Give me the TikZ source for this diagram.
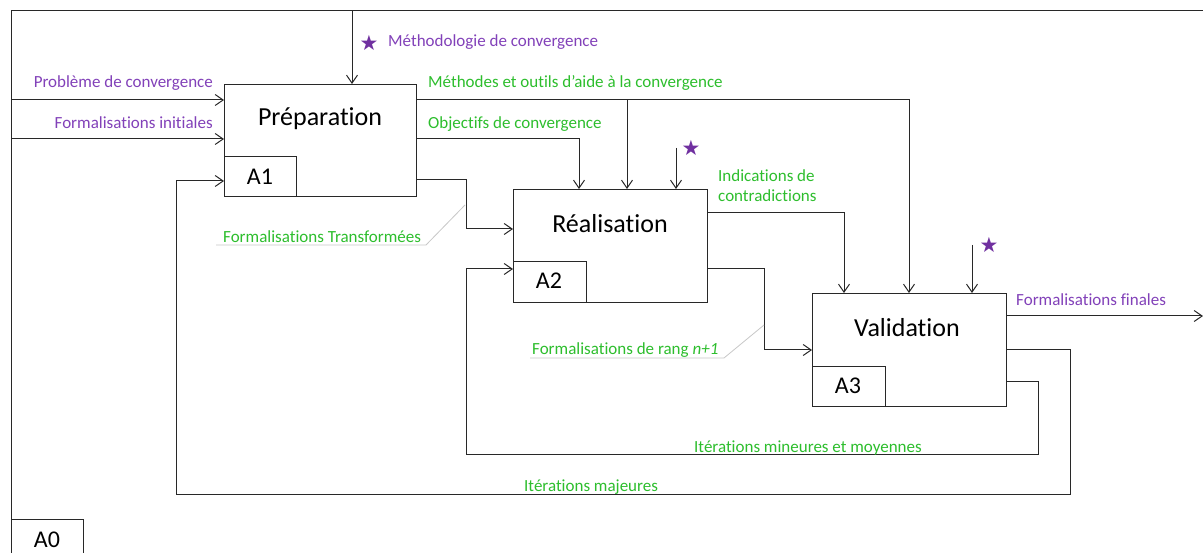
\documentclass[tikz,border=0pt]{standalone}
\usepackage{fontspec}
\setmainfont{Carlito}[Ligatures={NoCommon}]
\newfontfamily\symfont{DejaVu Sans}
\usetikzlibrary{arrows.meta}
\definecolor{lnc}{RGB}{40,40,40}
\definecolor{purp}{RGB}{130,65,185}
\definecolor{starc}{RGB}{112,48,160}
\definecolor{grn}{RGB}{45,190,45}
\definecolor{leadc}{RGB}{200,200,200}
\tikzset{
  box/.style={draw=lnc, line width=1pt, anchor=north west, inner sep=0pt, fill=white},
  title/.style={font=\fontsize{26}{30}\selectfont, text=black, inner sep=0pt},
  subt/.style={font=\fontsize{24}{28}\selectfont, text=black, inner sep=0pt},
  plbl/.style={font=\fontsize{17}{20}\selectfont, text=purp, inner sep=0pt},
  glbl/.style={font=\fontsize{17}{20}\selectfont, text=grn, inner sep=0pt, align=left},
  conn/.style={draw=lnc, line width=1pt},
  arr/.style={conn, -{Straight Barb[length=8pt,width=11pt,line width=1pt]}},
  leader/.style={draw=leadc, line width=0.8pt},
  starn/.style={font=\symfont\fontsize{21}{24}\selectfont, text=starc, inner sep=0pt},
}
\begin{document}
\begin{tikzpicture}[x=1pt,y=-1pt]
\useasboundingbox[fill=white] (0,0) rectangle (1203,553);
% frame
\coordinate (fbl) at (11,553);
\coordinate (ftl) at (11,11);
\coordinate (ftr) at (1203,11);
\draw[conn] (fbl) -- (ftl) -- (ftr);
\node[box, minimum width=72pt, minimum height=45pt] (A0) at (11,519) {};
\node[subt] (A0t) at (47,540) {A0};

% boxes
\node[box, minimum width=192pt, minimum height=112pt] (P) at (224,84) {};
\node[box, minimum width=72pt, minimum height=40pt] (A1) at (224,156) {};
\node[title] (Pt) at (320,119) {Préparation};
\node[subt] (A1t) at (260,177) {A1};

\node[box, minimum width=194pt, minimum height=113pt] (R) at (513,189) {};
\node[box, minimum width=73pt, minimum height=41pt] (A2) at (513,261) {};
\node[title] (Rt) at (610,224) {Réalisation};
\node[subt] (A2t) at (549,281) {A2};

\node[box, minimum width=194pt, minimum height=113pt] (V) at (812,293) {};
\node[box, minimum width=73pt, minimum height=40pt] (A3) at (812,366) {};
\node[title] (Vt) at (907,328) {Validation};
\node[subt] (A3t) at (848,386) {A3};

% inputs to P
\coordinate (in1) at (11,100);
\coordinate (in2) at (11,139);
\draw[arr] (in1) -- (in1 -| P.west);
\draw[arr] (in2) -- (in2 -| P.west);
\node[plbl, anchor=east] (l1) at (213,83) {Problème de convergence};
\node[plbl, anchor=east] (l2) at (213,123) {Formalisations initiales};

% control to P
\coordinate (c1) at (352,11);
\draw[arr] (c1) -- (c1 |- P.north);
\node[starn] (s1) at (369,43) {★};
\node[plbl, anchor=west] (l3) at (388,42) {Méthodologie de convergence};

% outputs of P
\coordinate (o1) at (416,100);
\coordinate (o1a) at (909,100);
\coordinate (o1b) at (627,100);
\draw[arr] (o1) -- (o1a) -- (o1a |- V.north);
\draw[arr] (o1b) -- (o1b |- R.north);
\node[glbl, anchor=west] (l4) at (428,83) {Méthodes et outils d’aide à la convergence};

\coordinate (o2) at (416,139);
\coordinate (o2a) at (579,139);
\draw[arr] (o2) -- (o2a) -- (o2a |- R.north);
\node[glbl, anchor=west] (l5) at (428,124) {Objectifs de convergence};

\coordinate (o3) at (416,180);
\coordinate (o3a) at (466,180);
\coordinate (o3b) at (466,229);
\draw[arr] (o3) -- (o3a) -- (o3b) -- (o3b -| R.west);
\node[glbl, anchor=west] (l6) at (223,237) {Formalisations Transformées};
\coordinate (ld1) at (216,245);
\coordinate (ld2) at (426,245);
\coordinate (ld3) at (465,205);
\draw[leader] (ld1) -- (ld2) -- (ld3);

% control to R
\coordinate (c2) at (676,148);
\draw[arr] (c2) -- (c2 |- R.north);
\node[starn] (s2) at (691,148) {★};

% outputs of R
\coordinate (r1) at (707,213);
\coordinate (r1a) at (844,213);
\draw[arr] (r1) -- (r1a) -- (r1a |- V.north);
\node[glbl, anchor=west] (l7) at (718,176) {Indications de};
\node[glbl, anchor=west] (l7b) at (718,196) {contradictions};

\coordinate (r2) at (707,269);
\coordinate (r2a) at (764,269);
\coordinate (r2b) at (764,350);
\draw[arr] (r2) -- (r2a) -- (r2b) -- (r2b -| V.west);
\node[glbl, anchor=west] (l8) at (532,350) {Formalisations de rang \textit{n+1}};
\coordinate (ld4) at (530,358);
\coordinate (ld5) at (724,358);
\coordinate (ld6) at (764,325);
\draw[leader] (ld4) -- (ld5) -- (ld6);

% control to V
\coordinate (c3) at (972,245);
\draw[arr] (c3) -- (c3 |- V.north);
\node[starn] (s3) at (989,245) {★};

% outputs of V
\coordinate (v1) at (1006,316);
\coordinate (v1e) at (1203,316);
\draw[arr] (v1) -- (v1e);
\node[plbl, anchor=west] (l9) at (1016,300) {Formalisations finales};

\coordinate (v2) at (1006,350);
\coordinate (v2a) at (1070,350);
\coordinate (v2b) at (1070,494);
\coordinate (v2c) at (176,494);
\coordinate (v2d) at (176,181);
\draw[arr] (v2) -- (v2a) -- (v2b) -- (v2c) -- (v2d) -- (v2d -| A1.west);
\node[glbl, anchor=west] (l10) at (524,487) {Itérations majeures};

\coordinate (v3) at (1006,382);
\coordinate (v3a) at (1038,382);
\coordinate (v3b) at (1038,454);
\coordinate (v3c) at (466,454);
\coordinate (v3d) at (466,269);
\draw[arr] (v3) -- (v3a) -- (v3b) -- (v3c) -- (v3d) -- (v3d -| A2.west);
\node[glbl, anchor=west] (l11) at (694,448) {Itérations mineures et moyennes};
\end{tikzpicture}
\end{document}
